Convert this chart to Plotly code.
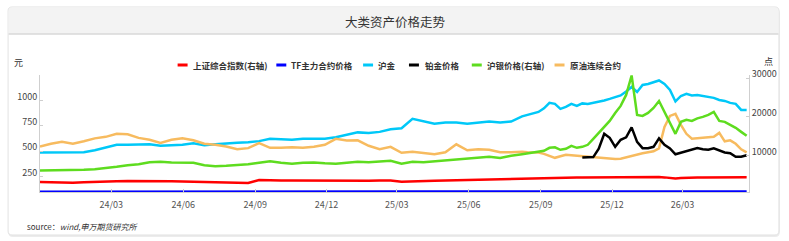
import pandas as pd
import plotly.graph_objects as go

# ---------------- data ----------------
# bi-weekly samples to Jul 2025, weekly samples afterwards
dates = (list(pd.date_range("2023-12-01", periods=44, freq="14D").strftime("%Y-%m-%d"))
         + list(pd.date_range("2025-08-08", "2026-05-22", freq="7D").strftime("%Y-%m-%d")))

series_names = ["上证综合指数(右轴)", "TF主力合约价格", "沪金", "铂金价格", "沪银价格(右轴)", "原油连续合约"]

shanghai = [3130, 3070, 2870, 2950, 3070, 3200, 3260, 3330, 3390, 3410,
            3460, 3390, 3330, 3280, 3200, 3130, 2950, 2870, 2870, 2870,
            3640, 3540, 3540, 3540, 3510, 3460, 3460, 3410, 3460, 3460,
            3460, 3510, 3510, 3200, 3330, 3410, 3460, 3510, 3590, 3670,
            3720, 3800, 3850, 3930,
            3980, 4000, 4030, 4070, 4110, 4130, 4160, 4200, 4240, 4260,
            4290, 4300, 4320, 4340, 4370, 4370, 4370, 4380, 4370, 4400,
            4420, 4410, 4420, 4400, 4420, 4410, 4330, 4200, 4060, 4150,
            4240, 4270, 4290, 4310, 4340, 4350, 4370, 4360, 4370, 4380,
            4370, 4370]

tf_price = [102.1, 102.4, 102.9, 103.3, 103.6, 103.9, 104.0, 104.2, 104.1, 104.4,
            104.6, 104.8, 105.0, 105.2, 105.4, 105.6, 105.9, 106.1, 105.8, 106.0,
            105.5, 105.9, 106.3, 106.6, 106.9, 107.2, 107.6, 107.5, 106.8, 106.4,
            106.7, 106.5, 106.2, 106.6, 106.4, 106.3, 106.1, 105.9, 105.7, 105.8,
            105.9, 106.0, 105.8, 105.7,
            106.0, 105.9, 106.1, 106.2, 106.1, 106.3, 106.2, 106.3, 106.2, 106.1,
            106.0, 106.1, 106.1, 106.2, 106.3, 106.3, 106.2, 106.1, 106.0, 105.9,
            106.0, 105.9, 106.1, 106.2, 106.2, 106.1, 106.0, 105.9, 105.8, 105.9,
            106.0, 106.1, 106.0, 105.9, 105.8, 105.9, 106.0, 106.1, 106.0, 105.9,
            105.9, 106.0]

gold = [488, 488, 490, 490, 490, 510, 539, 564, 564, 564,
        569, 554, 559, 564, 578, 559, 569, 578, 583, 588,
        600, 623, 618, 613, 623, 620, 623, 639, 662, 686,
        681, 691, 716, 727, 819, 792, 770, 782, 782, 770,
        784, 792, 784, 792,
        843, 858, 873, 887, 922, 976, 966, 917, 936, 966,
        946, 971, 966, 976, 985, 1000, 1015, 1029, 1049, 1088,
        1132, 1083, 1152, 1162, 1177, 1196, 1162, 1103, 990, 1044,
        1064, 1049, 1054, 1044, 1034, 1025, 1005, 995, 976, 966,
        907, 907]

platinum = [None] * 55 + [438, 441, 443, 525, 672, 632, 544, 613, 637,
                          735, 593, 531, 531, 544, 627, 564, 529, 471, 485,
                          500, 520, 531, 520, 515, 529, 510, 488, 482, 446,
                          446, 461]

silver = [6120, 6120, 6180, 6230, 6300, 6430, 6690, 7080, 7470, 7730,
          8240, 8370, 8190, 8190, 8110, 7470, 7210, 7340, 7520, 7730,
          8110, 8500, 8110, 7860, 8110, 8190, 7980, 7860, 8110, 8370,
          8240, 8370, 8630, 7860, 8370, 8240, 8500, 8760, 9070, 9280,
          9540, 9660, 9330, 9920,
          10310, 10570, 10830, 10960, 11210, 11990, 12120, 11470, 11730, 12510,
          11990, 12250, 12770, 14320, 15870, 17420, 18970, 21030, 22840, 25690,
          30720, 20520, 20260, 21030, 22330, 24130, 21290, 18190, 15610, 18710,
          19230, 18970, 19610, 20000, 20520, 21290, 18970, 18710, 17930, 17160,
          16120, 15090]

crude = [547, 574, 593, 574, 598, 627, 642, 672, 667, 632,
         613, 583, 613, 627, 608, 574, 564, 547, 520, 531,
         580, 534, 534, 539, 534, 544, 564, 623, 606, 608,
         554, 520, 544, 485, 495, 485, 471, 490, 569, 510,
         520, 515, 490, 490,
         495, 490, 490, 488, 475, 456, 436, 451, 466, 461,
         456, 453, 449, 446, 443, 436, 431, 424, 426, 441,
         456, 471, 480, 490, 500, 529, 740, 848, 868, 760,
         672, 623, 627, 632, 637, 642, 681, 598, 608, 574,
         520, 490]

left_ticks = [250, 500, 750, 1000]
right_ticks = [10000, 20000, 30000]
x_ticks = ["2024-03-01", "2024-06-01", "2024-09-01", "2024-12-01", "2025-03-01",
           "2025-06-01", "2025-09-01", "2025-12-01", "2026-03-01"]

# ---------------- styling ----------------
colors = ["#ff0000", "#0000ff", "#00c8f8", "#000000", "#5edc1f", "#f7bb5f"]
FONT = "Noto Sans CJK SC, Noto Sans, sans-serif"

W, H = 789, 241
ML, MR, MT, MB = 40, 38, 75, 49
PW = W - ML - MR
PH = H - MT - MB


def fx(px):
    return (px - ML) / PW


def fy(py):
    return (H - MB - py) / PH


fig = go.Figure()

left_series = [(tf_price, 1), (gold, 2), (crude, 5), (platinum, 3)]
for vals, k in left_series:
    fig.add_trace(go.Scatter(x=dates, y=vals, mode="lines", name=series_names[k],
                             line=dict(color=colors[k], width=2.5), showlegend=False,
                             connectgaps=False, hoverinfo="skip"))
right_series = [(shanghai, 0), (silver, 4)]
for vals, k in right_series:
    fig.add_trace(go.Scatter(x=dates, y=vals, mode="lines", name=series_names[k],
                             line=dict(color=colors[k], width=2.5), showlegend=False,
                             yaxis="y2", hoverinfo="skip"))


def rounded_path(x0, y0, x1, y1, r, top_only=False):
    # pixel coords, y downward
    def P(px, py):
        return f"{fx(px):.5f},{fy(py):.5f}"
    if top_only:
        return (f"M {P(x0, y1)} L {P(x0, y0 + r)} Q {P(x0, y0)} {P(x0 + r, y0)} "
                f"L {P(x1 - r, y0)} Q {P(x1, y0)} {P(x1, y0 + r)} L {P(x1, y1)} Z")
    return (f"M {P(x0 + r, y0)} L {P(x1 - r, y0)} Q {P(x1, y0)} {P(x1, y0 + r)} "
            f"L {P(x1, y1 - r)} Q {P(x1, y1)} {P(x1 - r, y1)} L {P(x0 + r, y1)} "
            f"Q {P(x0, y1)} {P(x0, y1 - r)} L {P(x0, y0 + r)} Q {P(x0, y0)} {P(x0 + r, y0)} Z")


shapes = [
    dict(type="path", xref="paper", yref="paper", layer="below",
         path=rounded_path(8, 8, 782, 237, 5), fillcolor="#ececec", line=dict(width=0)),
    dict(type="path", xref="paper", yref="paper", layer="below",
         path=rounded_path(8, 7, 781, 235, 4), fillcolor="#ffffff",
         line=dict(color="#e2e2e2", width=1)),
    dict(type="path", xref="paper", yref="paper", layer="below",
         path=rounded_path(8.5, 7.5, 780.5, 34, 4, top_only=True), fillcolor="#f3f3f3",
         line=dict(width=0)),
    dict(type="line", xref="paper", yref="paper", layer="below",
         x0=fx(8.5), x1=fx(780.5), y0=fy(34), y1=fy(34), line=dict(color="#d9d9d9", width=1.5)),
]

annotations = [
    dict(text="大类资产价格走势", x=fx(397), y=fy(21), xref="paper", yref="paper",
         showarrow=False, font=dict(size=12.5, color="#333333", family=FONT),
         xanchor="center", yanchor="middle"),
    dict(text="元", x=fx(18), y=fy(63), xref="paper", yref="paper", showarrow=False,
         font=dict(size=9, color="#333333", family=FONT), xanchor="center", yanchor="middle"),
    dict(text="点", x=fx(771), y=fy(61), xref="paper", yref="paper", showarrow=False,
         font=dict(size=9, color="#333333", family=FONT), xanchor="center", yanchor="middle"),
    dict(text="source：<i>wind,申万期货研究所</i>", x=fx(25), y=fy(226), xref="paper", yref="paper",
         showarrow=False, font=dict(size=8, color="#333333", family=FONT),
         xanchor="left", yanchor="middle"),
]

# custom legend
leg_line_x = [178, 277, 364, 410, 473, 556]
leg_text_x = [191, 290, 377, 424, 486, 569]
leg_y = 65
for k in range(6):
    shapes.append(dict(type="line", xref="paper", yref="paper", x0=fx(leg_line_x[k]),
                       x1=fx(leg_line_x[k] + 10), y0=fy(leg_y), y1=fy(leg_y),
                       line=dict(color=colors[k], width=3)))
    annotations.append(dict(text="<b>" + series_names[k] + "</b>", x=fx(leg_text_x[k]), y=fy(leg_y),
                            xref="paper", yref="paper", showarrow=False, xanchor="left",
                            yanchor="middle", font=dict(size=8.5, color="#333333", family=FONT)))

fig.update_layout(
    width=W, height=H,
    margin=dict(l=ML, r=MR, t=MT, b=MB),
    paper_bgcolor="#ffffff", plot_bgcolor="rgba(0,0,0,0)",
    font=dict(family=FONT, size=9, color="#555555"),
    showlegend=False,
    hovermode=False,
    shapes=shapes,
    annotations=annotations,
    xaxis=dict(type="date", range=["2023-12-01", "2026-05-25"],
               tickvals=x_ticks, tickformat="%y/%m",
               showgrid=False, zeroline=False, showline=True, linecolor="#cfcfcf", linewidth=1,
               ticks="inside", ticklen=3, tickcolor="#cfcfcf", ticklabelstandoff=4,
               tickfont=dict(size=9, color="#555555", family=FONT)),
    yaxis=dict(range=[100, 1250], tickvals=left_ticks, ticktext=[str(v) for v in left_ticks],
               showgrid=False, zeroline=False, showline=True, linecolor="#cfcfcf", linewidth=1,
               ticks="inside", ticklen=3, tickcolor="#cfcfcf", ticklabelshift=-4,
               tickfont=dict(size=9, color="#444444", family=FONT)),
    yaxis2=dict(range=[543, 30853], tickvals=right_ticks, ticktext=[str(v) for v in right_ticks],
                overlaying="y", side="right",
                showgrid=False, zeroline=False, showline=True, linecolor="#cfcfcf", linewidth=1,
                ticks="inside", ticklen=3, tickcolor="#cfcfcf", ticklabelshift=-4,
                tickfont=dict(size=9, color="#444444", family=FONT)),
)

fig.write_html("out.html")
